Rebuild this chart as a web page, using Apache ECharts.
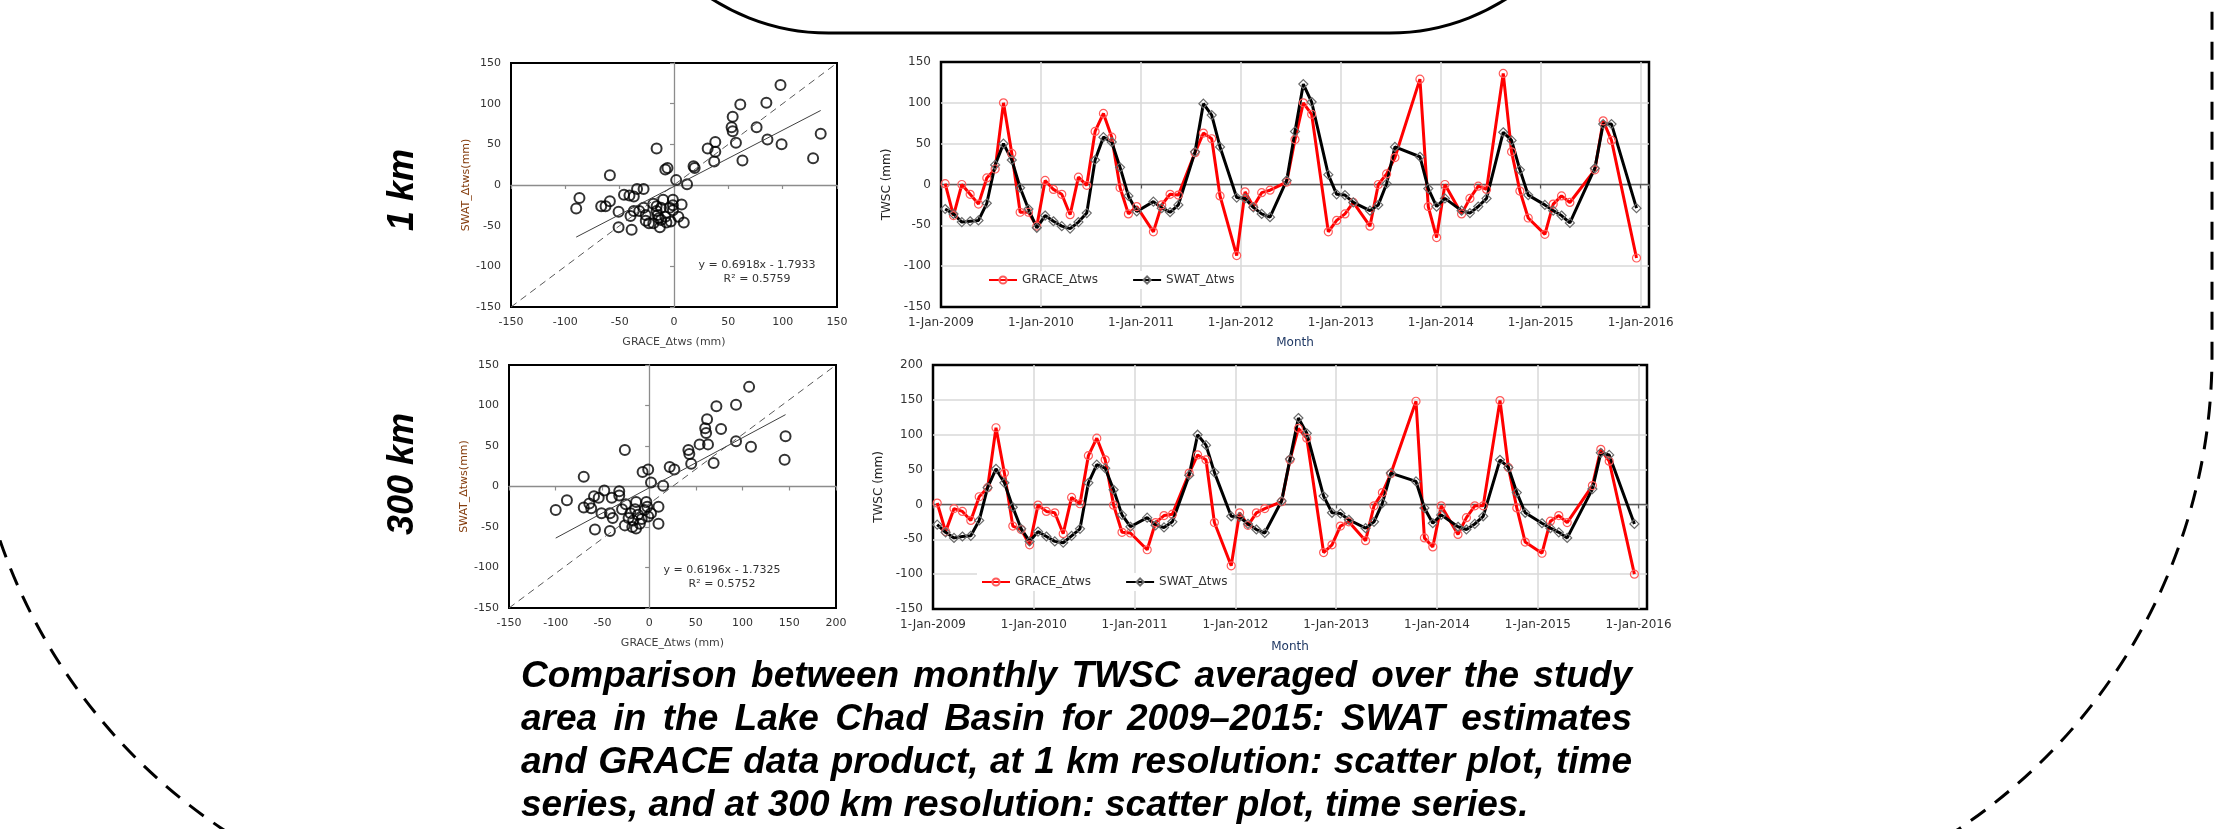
<!DOCTYPE html>
<html>
<head>
<meta charset="utf-8">
<title>TWSC Lake Chad Basin - SWAT vs GRACE</title>
<script src="https://cdn.jsdelivr.net/npm/echarts@6/dist/echarts.min.js"></script>
<style>
    html, body { margin: 0; padding: 0; background: #fff; }
    #chart { width: 2226px; height: 829px; }
</style>
</head>
<body>
<div id="chart"></div>
<script>
// monthly TWSC (mm), index 0 = Jan 2009 ... 83 = Dec 2015, null = no value
var grace1km = [1, -38, 0, -12, -24, 8, 19, 100, 38, -34, -34, -51,
    5, -6, -12, -37, 9, -1, 65, 87, 58, -4, -36, -27,
    null, -58, -25, -12, -13, null, 39, 63, 56, -14, null, -87,
    -9, -27, -10, -7, null, 3, 55, 100, 86, null, -58, -44,
    -36, -22, null, -51, 0, 13, 33, null, null, 129, -27, -65,
    0, null, -36, -17, -2, -6, null, 136, 40, -8, -41, null,
    -61, -24, -14, -22, null, null, 18, 78, 54, null, null, -90];
var swat1km = [-30, -36, -46, -45, -44, -23, 24, 50, 30, -4, -30, -53,
    -38, -45, -51, -54, -46, -35, 30, 58, 52, 21, -14, -33,
    null, -21, -29, -34, -25, null, 40, 99, 85, 46, null, -16,
    -17, -28, -36, -40, null, 5, 65, 123, 101, null, 12, -12,
    -13, -22, null, -32, -25, 1, 46, null, null, 34, -5, -27,
    -17, null, -32, -35, -27, -17, null, 64, 54, 18, -13, null,
    -25, -32, -38, -47, null, null, 20, 74, 74, null, null, -29];
var grace300km = [2, -39, -6, -10, -23, 11, 24, 110, 45, -31, -36, -58,
    -1, -10, -12, -42, 10, 1, 70, 95, 64, -1, -40, -41,
    null, -65, -26, -16, -14, null, 45, 71, 64, -26, null, -88,
    -12, -30, -12, -6, null, 4, 64, 109, 95, null, -69, -58,
    -31, -25, null, -52, -2, 17, 44, null, null, 148, -48, -61,
    -2, null, -43, -19, -2, -2, null, 149, 53, -5, -54, null,
    -70, -24, -16, -26, null, null, 27, 79, 62, null, null, -100];
var swat300km = [-29, -40, -48, -46, -45, -23, 24, 51, 31, -4, -35, -53,
    -39, -46, -53, -55, -45, -35, 31, 57, 52, 21, -15, -32,
    null, -19, -30, -33, -25, null, 42, 100, 85, 46, null, -17,
    -18, -28, -36, -41, null, 5, 65, 124, 102, null, 12, -12,
    -13, -22, null, -34, -25, 2, 45, null, null, 33, -5, -27,
    -15, null, -32, -36, -28, -17, null, 64, 53, 17, -12, null,
    -27, -34, -40, -48, null, null, 22, 74, 71, null, null, -28];

// scatter pairs: GRACE_dtws (x) against SWAT_dtws (y)
var scatter1kmX = [98, 85, 61, 54, 53, 54, 76, 86, 57, 99, 135, 128, 63, 38, 38, 31, 37, 18, 19,
    -16, -6, -8, 2, 12, -59, -87, -90, -67, -63, -59, -51, -51, -39, -46, -41, -37, -34, -28,
    -37, -40, -32, -28, -26, -26, -23, -19, -16, -16, -14, -13, -12, -10, -8, -7, -4, -1, -1,
    -1, -3, 4, 7, 9, -15, -19, -12];
var scatter1kmY = [123, 101, 99, 84, 71, 66, 71, 56, 52, 50, 63, 33, 30, 53, 41, 45, 29, 23, 21,
    45, 21, 19, 6, 1, 12, -16, -29, -26, -26, -20, -33, -52, -55, -12, -13, -14, -5, -5,
    -32, -38, -32, -28, -37, -44, -47, -23, -26, -32, -41, -52, -43, -18, -39, -46, -28, -18, -25,
    -31, -45, -39, -24, -46, -37, -47, -28];
var scatter300kmX = [107, 93, 72, 62, 60, 61, 77, 63, 54, 93, 109, 146, 145, 69, 42, 43, 45, 22, 27,
    -26, -7, -1, 2, 15, -70, -88, -100, -70, -62, -64, -59, -54, -48, -58, -51, -42, -42, -39,
    -40, -32, -32, -29, -26, -25, -22, -20, -17, -14, -14, -10, -8, -12, -5, -3, -2, -1, 2, 10, 10,
    -15, -18];
var scatter300kmY = [123, 101, 99, 83, 72, 66, 71, 52, 52, 56, 49, 62, 33, 29, 45, 40, 28, 24, 21,
    45, 18, 21, 5, 1, 12, -17, -29, -26, -27, -21, -12, -14, -5, -53, -33, -55, -33, -39,
    -14, -6, -11, -28, -48, -22, -39, -33, -42, -19, -52, -46, -40, -35, -29, -19, -25, -37, -33, -25, -46,
    -28, -50];

var fit1km = { slope: 0.6918, intercept: -1.7933, r2: '0.5759' };
var fit300km = { slope: 0.6196, intercept: -1.7325, r2: '0.5752' };

var yearLabels = ['1-Jan-2009', '1-Jan-2010', '1-Jan-2011', '1-Jan-2012',
    '1-Jan-2013', '1-Jan-2014', '1-Jan-2015', '1-Jan-2016'];

var captionLines = [
    'Comparison between monthly TWSC averaged over the study',
    'area in the Lake Chad Basin for 2009\u20132015: SWAT estimates',
    'and GRACE data product, at 1 km resolution: scatter plot, time',
    'series, and at 300 km resolution: scatter plot, time series.'
];

var sansFont = '"DejaVu Sans", sans-serif';
var boldFont = '"Liberation Sans", Arial, sans-serif';

/*** helpers ***/
var toMonthPoints = function(values) {
    var out = [];
    for (var i = 0; i < values.length; i++) {
        if (values[i] !== null) {
            out.push([i + 0.5, values[i]]);
        }
    }
    return out;
};

var zip = function(xs, ys) {
    var out = [];
    for (var i = 0; i < xs.length; i++) {
        out.push([xs[i], ys[i]]);
    }
    return out;
};

var fitLine = function(xs, fit) {
    var lo = Math.min.apply(null, xs);
    var hi = Math.max.apply(null, xs);
    return [[lo, fit.slope * lo + fit.intercept], [hi, fit.slope * hi + fit.intercept]];
};

var labelAxis = function(gridIndex, position, min, max, step, fontSize, extra) {
    var axis = {
        type: 'value',
        gridIndex: gridIndex,
        position: position,
        min: min,
        max: max,
        interval: step,
        axisLine: { show: false, onZero: false },
        axisTick: { show: false },
        splitLine: { show: false },
        axisLabel: { color: '#333', fontFamily: sansFont, fontSize: fontSize, margin: 10 }
    };
    for (var k in extra) {
        axis[k] = extra[k];
    }
    return axis;
};

var zeroAxis = function(gridIndex, position, min, max, step, color) {
    return {
        type: 'value',
        gridIndex: gridIndex,
        position: position,
        min: min,
        max: max,
        interval: step,
        axisLine: { show: true, onZero: true, lineStyle: { color: color, width: 1.3 } },
        axisTick: { show: true, length: 4, lineStyle: { color: color, width: 1.2 } },
        axisLabel: { show: false },
        splitLine: { show: false }
    };
};

// light grid, but leave the frame edges to the black border
var gridLines = {
    show: true, showMinLine: false, showMaxLine: false,
    lineStyle: { color: '#d9d9d9', width: 1.5 }
};

var yearFormatter = function(v) {
    return v % 12 === 0 ? (yearLabels[v / 12] || '') : '';
};

var nameStyle = function(color, size) {
    return { color: color, fontFamily: sansFont, fontSize: size };
};

var scatterSeries = function(axisIndex, yAxisIndex, xs, ys, fit, diagEnd) {
    return [{
        type: 'line', xAxisIndex: axisIndex, yAxisIndex: yAxisIndex,
        data: [[-150, -150], diagEnd], symbol: 'none', silent: true,
        lineStyle: { color: '#595959', width: 1, type: [7, 5] }
    }, {
        type: 'line', xAxisIndex: axisIndex, yAxisIndex: yAxisIndex,
        data: fitLine(xs, fit), symbol: 'none', silent: true,
        lineStyle: { color: '#404040', width: 1 }
    }, {
        type: 'scatter', xAxisIndex: axisIndex, yAxisIndex: yAxisIndex,
        data: zip(xs, ys), symbol: 'circle', symbolSize: 10,
        itemStyle: { color: 'rgba(255,255,255,0)', borderColor: '#000', borderWidth: 2 }
    }];
};

var timeSeries = function(axisIndex, yAxisIndex, grace, swat) {
    return [{
        name: 'GRACE_\u0394tws', type: 'line', xAxisIndex: axisIndex, yAxisIndex: yAxisIndex,
        data: toMonthPoints(grace), symbol: 'circle', symbolSize: 8,
        lineStyle: { color: '#ff0000', width: 3 },
        itemStyle: { color: 'rgba(255,255,255,0)', borderColor: '#ff5a5a', borderWidth: 1.2 }
    }, {
        name: 'SWAT_\u0394tws', type: 'line', xAxisIndex: axisIndex, yAxisIndex: yAxisIndex,
        data: toMonthPoints(swat), symbol: 'diamond', symbolSize: 9,
        lineStyle: { color: '#000', width: 3 },
        itemStyle: { color: 'rgba(255,255,255,0)', borderColor: '#6a6a6a', borderWidth: 1.2 }
    }];
};

var legendAt = function(left, top) {
    return {
        left: left, top: top, itemWidth: 28, itemHeight: 9, itemGap: 34,
        backgroundColor: '#fff', padding: [3, 4],
        textStyle: { color: '#333', fontFamily: sansFont, fontSize: 12 },
        data: ['GRACE_\u0394tws', 'SWAT_\u0394tws']
    };
};

/*** caption, justified word by word ***/
var captionGraphics = function() {
    var left = 521, right = 1632, top = 677, step = 43, size = 37;
    var ctx = document.createElement('canvas').getContext('2d');
    ctx.font = 'italic bold ' + size + 'px ' + boldFont;
    var items = [];
    var textStyle = function(str, x, y) {
        return {
            type: 'text', x: x, y: y,
            style: {
                text: str, fill: '#000', fontSize: size, fontWeight: 'bold', fontStyle: 'italic',
                fontFamily: boldFont, align: 'left', verticalAlign: 'middle'
            }
        };
    };
    for (var i = 0; i < captionLines.length; i++) {
        var y = top + i * step;
        if (i === captionLines.length - 1) {
            items.push(textStyle(captionLines[i], left, y));
            continue;
        }
        var words = captionLines[i].split(' ');
        var used = 0;
        for (var j = 0; j < words.length; j++) {
            used += ctx.measureText(words[j]).width;
        }
        var gap = (right - left - used) / (words.length - 1);
        var x = left;
        for (j = 0; j < words.length; j++) {
            items.push(textStyle(words[j], x, y));
            x += ctx.measureText(words[j]).width + gap;
        }
    }
    return items;
};

var sideLabel = function(str, x, y) {
    return {
        type: 'text', x: x, y: y, rotation: Math.PI / 2,
        style: {
            text: str, fill: '#000', fontSize: 36, fontWeight: 'bold', fontStyle: 'italic',
            fontFamily: boldFont, align: 'center', verticalAlign: 'middle'
        }
    };
};

var fitLabel = function(fit, x, y) {
    return {
        type: 'text', x: x, y: y,
        style: {
            text: 'y = ' + fit.slope + 'x - ' + Math.abs(fit.intercept) + '\nR\u00b2 = ' + fit.r2,
            fill: '#333', fontSize: 11, fontFamily: sansFont, align: 'center',
            verticalAlign: 'middle', lineHeight: 14
        }
    };
};

var graphics = [{
    type: 'rect', silent: true,
    shape: { x: -31, y: -600, width: 2243, height: 1525, r: 570 },
    style: { fill: 'none', stroke: '#000', lineWidth: 3, lineDash: [18, 12] }
}, {
    type: 'rect', silent: true,
    shape: { x: 612, y: -400, width: 994, height: 433, r: 220 },
    style: { fill: '#fff', stroke: '#000', lineWidth: 3 }
},
    sideLabel('1 km', 403, 190),
    sideLabel('300 km', 403, 474),
    fitLabel(fit1km, 757, 272),
    fitLabel(fit300km, 722, 577)
].concat(captionGraphics());

var option = {
    animation: false,
    backgroundColor: '#fff',
    grid: [
        { left: 511, top: 63, width: 326, height: 244, show: true, borderColor: '#000', borderWidth: 2 },
        { left: 941, top: 62, width: 708, height: 245, show: true, borderColor: '#000', borderWidth: 2.5 },
        { left: 509, top: 365, width: 327, height: 243, show: true, borderColor: '#000', borderWidth: 2 },
        { left: 933, top: 365, width: 714, height: 244, show: true, borderColor: '#000', borderWidth: 2.5 }
    ],
    xAxis: [
        labelAxis(0, 'bottom', -150, 150, 50, 11, {
            name: 'GRACE_\u0394tws (mm)', nameLocation: 'middle', nameGap: 30,
            nameTextStyle: nameStyle('#404040', 11)
        }),
        zeroAxis(0, 'bottom', -150, 150, 50, '#8c8c8c'),
        labelAxis(1, 'bottom', 0, 85, 12, 12, {
            splitLine: gridLines,
            axisLabel: { color: '#333', fontFamily: sansFont, fontSize: 12, margin: 10,
                formatter: yearFormatter, showMaxLabel: false },
            name: 'Month', nameLocation: 'middle', nameGap: 30,
            nameTextStyle: nameStyle('#1f3864', 12)
        }),
        zeroAxis(1, 'bottom', 0, 85, 12, '#595959'),
        labelAxis(2, 'bottom', -150, 200, 50, 11, {
            name: 'GRACE_\u0394tws (mm)', nameLocation: 'middle', nameGap: 30,
            nameTextStyle: nameStyle('#404040', 11)
        }),
        zeroAxis(2, 'bottom', -150, 200, 50, '#8c8c8c'),
        labelAxis(3, 'bottom', 0, 85, 12, 12, {
            splitLine: gridLines,
            axisLabel: { color: '#333', fontFamily: sansFont, fontSize: 12, margin: 10,
                formatter: yearFormatter, showMaxLabel: false },
            name: 'Month', nameLocation: 'middle', nameGap: 32,
            nameTextStyle: nameStyle('#1f3864', 12)
        }),
        zeroAxis(3, 'bottom', 0, 85, 12, '#595959')
    ],
    yAxis: [
        labelAxis(0, 'left', -150, 150, 50, 11, {
            name: 'SWAT_\u0394tws(mm)', nameLocation: 'middle', nameGap: 34,
            nameTextStyle: nameStyle('#843c0c', 11)
        }),
        zeroAxis(0, 'left', -150, 150, 50, '#8c8c8c'),
        labelAxis(1, 'left', -150, 150, 50, 12, {
            splitLine: gridLines,
            name: 'TWSC (mm)', nameLocation: 'middle', nameGap: 48,
            nameTextStyle: nameStyle('#262626', 12)
        }),
        labelAxis(2, 'left', -150, 150, 50, 11, {
            name: 'SWAT_\u0394tws(mm)', nameLocation: 'middle', nameGap: 34,
            nameTextStyle: nameStyle('#843c0c', 11)
        }),
        zeroAxis(2, 'left', -150, 150, 50, '#8c8c8c'),
        labelAxis(3, 'left', -150, 200, 50, 12, {
            splitLine: gridLines,
            name: 'TWSC (mm)', nameLocation: 'middle', nameGap: 48,
            nameTextStyle: nameStyle('#262626', 12)
        })
    ],
    legend: [legendAt(984, 271), legendAt(977, 573)],
    graphic: graphics,
    series: [].concat(
        scatterSeries(0, 0, scatter1kmX, scatter1kmY, fit1km, [150, 150]),
        timeSeries(2, 2, grace1km, swat1km),
        scatterSeries(4, 3, scatter300kmX, scatter300kmY, fit300km, [200, 150]),
        timeSeries(6, 5, grace300km, swat300km)
    )
};

var myChart = echarts.init(document.getElementById('chart'));
myChart.setOption(option);
</script>
</body>
</html>
